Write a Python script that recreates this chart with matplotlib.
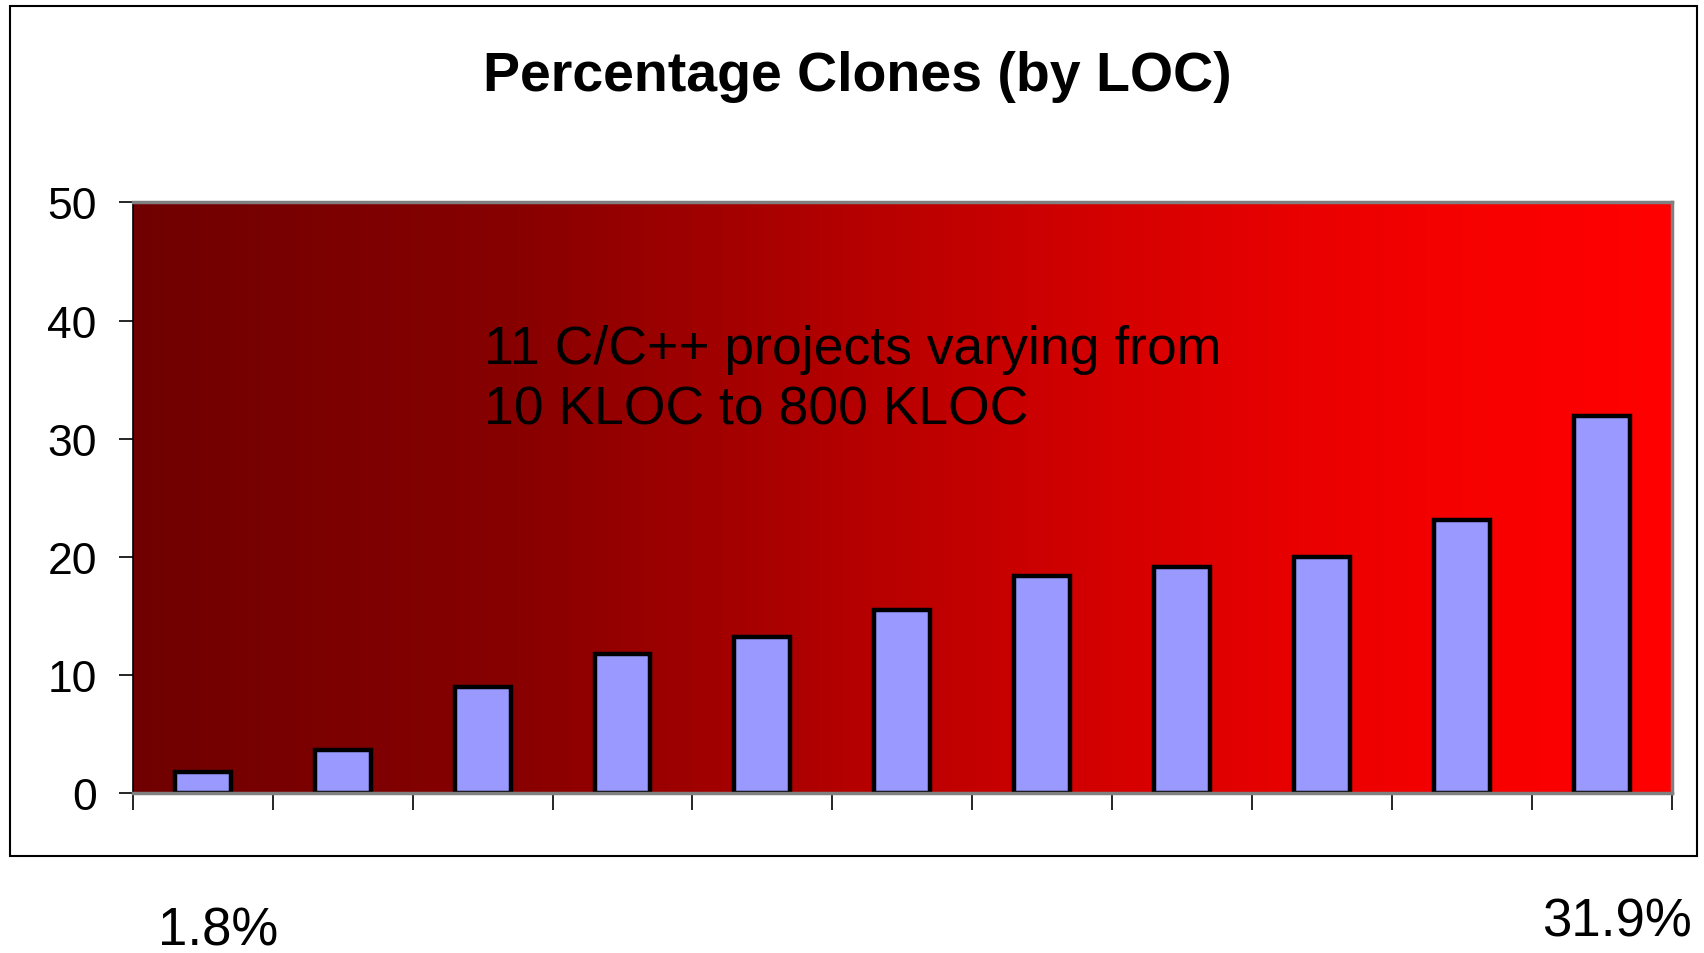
import numpy as np
import matplotlib
matplotlib.use("Agg")
import matplotlib.pyplot as plt
from matplotlib.colors import LinearSegmentedColormap
from matplotlib.patches import Rectangle

plt.rcParams['font.family'] = ['Liberation Sans', 'DejaVu Sans']

# data
projects = np.arange(11)
clones = [1.8, 3.6, 9.0, 11.8, 13.2, 15.5, 18.4, 19.1, 20.0, 23.1, 31.9]
yticks = [0, 10, 20, 30, 40, 50]
low_label = "1.8%"
high_label = "31.9%"

fig = plt.figure(figsize=(17.04, 9.54), dpi=100)
ax = fig.add_axes([0.078, 0.1677, 0.903, 0.619])

# background gradient (dark red -> red)
bg = LinearSegmentedColormap.from_list("bg", [(0.0, "#700000"), (0.25, "#880000"),
                                              (0.5, "#BB0000"), (0.62, "#D20000"),
                                              (0.75, "#E80000"), (0.88, "#F80000"),
                                              (1.0, "#FF0000")])
grad = np.linspace(0, 1, 512).reshape(1, -1)
ax.imshow(grad, cmap=bg, aspect='auto', extent=(-0.5, 10.5, 0, 50), zorder=0)

ax.bar(projects, clones, width=0.4, color="#9999FF", edgecolor="black",
       linewidth=3.2, zorder=2)

ax.set_xlim(-0.5, 10.5)
ax.set_ylim(0, 50)
ax.set_yticks(yticks)
ax.tick_params(axis='y', labelsize=32, length=10, width=1.2, direction='out', pad=16)
ax.set_xticks([])
ax.set_xticks(np.arange(-0.5, 11, 1), minor=True)
ax.tick_params(axis='x', which='minor', length=12, width=1.2, direction='out')

ax.spines['left'].set_color('black')
ax.spines['left'].set_linewidth(1.2)
for s in ['top', 'right', 'bottom']:
    ax.spines[s].set_color('#808080')
    ax.spines[s].set_linewidth(2.5)

ax.text(0.228, 0.700, "11 C/C++ projects varying from\n10 KLOC to 800 KLOC",
        transform=ax.transAxes, fontsize=38.5, color="black", va='center',
        ha='left', linespacing=1.27, zorder=3)

# outer chart border
fig.patches.append(Rectangle((0.0059, 0.1017), 0.99, 0.891, transform=fig.transFigure,
                             fill=False, edgecolor='black', linewidth=1.5))

fig.text(0.503, 0.9195, "Percentage Clones (by LOC)", ha='center', va='center',
         fontsize=40, fontweight='bold')

fig.text(0.128, 0.024, low_label, ha='center', va='center', fontsize=38)
fig.text(0.949, 0.033, high_label, ha='center', va='center', fontsize=38)

fig.savefig("out.png", dpi=100)
